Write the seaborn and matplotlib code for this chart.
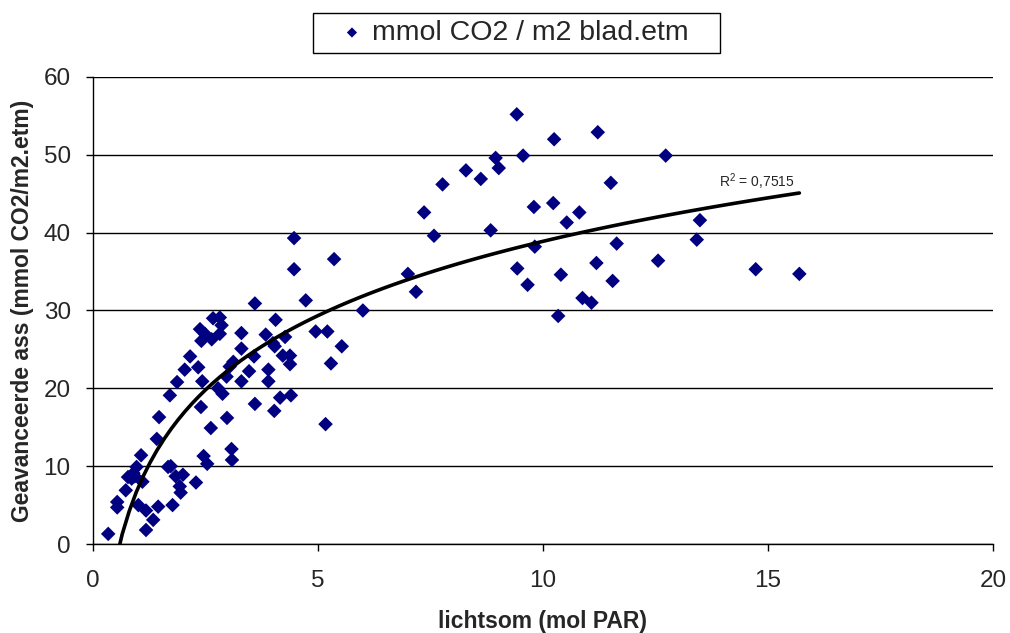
import numpy as np
import pandas as pd
import matplotlib
matplotlib.use("Agg")
import matplotlib.pyplot as plt
from matplotlib.patches import Rectangle
import seaborn as sns

# Data
lichtsom = [0.34, 0.54, 0.54, 0.73, 0.78, 0.86, 0.93, 0.97, 0.90, 1.10,
            1.07, 1.01, 1.18, 1.34, 1.18, 1.45, 1.42, 1.47, 1.71, 1.87,
            1.67, 1.73, 1.84, 2.00, 1.93, 1.95, 1.77, 2.29, 2.40, 2.46,
            2.54, 2.62, 2.16, 2.34, 2.04, 2.43, 2.38, 2.49, 2.41, 2.64,
            2.82, 2.67, 2.82, 2.86, 2.98, 2.97, 2.78, 2.88, 3.12, 3.04,
            3.08, 3.09, 3.30, 3.30, 3.30, 3.47, 3.58, 3.60, 3.60, 3.84,
            3.90, 3.90, 4.06, 4.00, 4.04, 4.03, 4.16, 4.40, 4.22, 4.38,
            4.38, 4.27, 4.47, 4.47, 4.73, 4.95, 5.21, 5.29, 5.36, 5.53,
            5.17, 6.00, 7.00, 7.18, 7.36, 7.58, 7.77, 8.29, 8.62, 8.84,
            8.95, 9.02, 9.42, 9.56, 9.43, 9.66, 9.80, 9.82, 10.25, 10.23,
            10.53, 10.40, 10.34, 10.81, 10.88, 11.08, 11.22, 11.51, 11.64, 11.19,
            11.55, 12.56, 12.73, 13.42, 13.49, 14.73, 15.70]
assimilatie = [1.3, 5.4, 4.7, 6.9, 8.6, 8.4, 8.7, 9.9, 9.1, 8.0,
               11.4, 5.0, 4.3, 3.1, 1.8, 4.8, 13.5, 16.3, 19.1, 20.8,
               9.9, 10.0, 8.7, 8.9, 7.4, 6.6, 5.0, 7.9, 17.6, 11.3,
               10.3, 14.9, 24.1, 22.7, 22.4, 20.9, 27.6, 27.0, 26.1, 26.3,
               27.0, 29.0, 29.1, 28.1, 16.2, 21.5, 20.0, 19.3, 23.4, 22.8,
               12.2, 10.8, 27.1, 25.1, 20.9, 22.2, 24.1, 18.0, 30.9, 26.9,
               22.4, 20.9, 28.8, 25.8, 25.4, 17.1, 18.8, 19.1, 24.2, 24.2,
               23.1, 26.6, 39.3, 35.3, 31.3, 27.3, 27.3, 23.2, 36.6, 25.4,
               15.4, 30.0, 34.7, 32.4, 42.6, 39.6, 46.2, 48.0, 46.9, 40.3,
               49.6, 48.3, 55.2, 49.9, 35.4, 33.3, 43.3, 38.2, 52.0, 43.8,
               41.3, 34.6, 29.3, 42.6, 31.6, 31.0, 52.9, 46.4, 38.6, 36.1,
               33.8, 36.4, 49.9, 39.1, 41.6, 35.3, 34.7]
series_label = "mmol CO2 / m2 blad.etm"
r2_label = "R$^2$ = 0,7515"
x_ticks = [0, 5, 10, 15, 20]
y_ticks = [0, 10, 20, 30, 40, 50, 60]

df = pd.DataFrame({"x": lichtsom, "y": assimilatie})

sns.set_theme(style="white")
plt.rcParams["font.family"] = ["Liberation Sans", "DejaVu Sans"]
plt.rcParams["mathtext.fontset"] = "custom"
plt.rcParams["mathtext.rm"] = "Liberation Sans"

fig = plt.figure(figsize=(10.10, 6.33), dpi=100)
ax = fig.add_axes([0.092, 0.1406, 0.891, 0.7378])

navy = "#000080"
sns.scatterplot(data=df, x="x", y="y", ax=ax, marker="D", s=55,
                color=navy, edgecolor="none", linewidth=0,
                label=series_label, zorder=3)
sns.regplot(data=df, x="x", y="y", ax=ax, logx=True, ci=None, scatter=False,
            line_kws={"color": "black", "lw": 2.6, "zorder": 4})

ax.set_xlim(0, 20)
ax.set_ylim(0, 60)
ax.set_xticks(x_ticks)
ax.set_yticks(y_ticks)
ax.tick_params(axis="both", labelsize=17.5, length=5, width=1,
               color="black", direction="out", bottom=True, left=True)
ax.tick_params(axis="x", pad=14)
ax.tick_params(axis="y", pad=11)
ax.yaxis.grid(True, color="black", lw=1)
ax.xaxis.grid(False)
ax.set_axisbelow(True)
for side in ["top", "right"]:
    ax.spines[side].set_visible(False)
for side in ["left", "bottom"]:
    ax.spines[side].set_color("black")
    ax.spines[side].set_linewidth(1)

ax.set_xlabel("lichtsom (mol PAR)", fontsize=16.5, fontweight="bold", labelpad=13)
ax.set_ylabel("Geavanceerde ass (mmol CO2/m2.etm)", fontsize=16.5,
              fontweight="bold", labelpad=7)

ax.text(13.91, 45.9, r2_label, fontsize=10, ha="left", va="baseline")

ax.get_legend().remove()
handles, labels = ax.get_legend_handles_labels()
leg = fig.legend(handles[:1], labels[:1], loc="center left",
                 bbox_to_anchor=(0.3372, 0.9479), frameon=False,
                 fontsize=20.5, markerscale=0.7, handletextpad=0.3,
                 borderpad=0, handlelength=0.8, borderaxespad=0)
fig.patches.append(Rectangle((0.3099, 0.9163), 0.403, 0.0632,
                             transform=fig.transFigure, fill=False,
                             edgecolor="black", lw=1))

fig.savefig("out.png", dpi=100)
